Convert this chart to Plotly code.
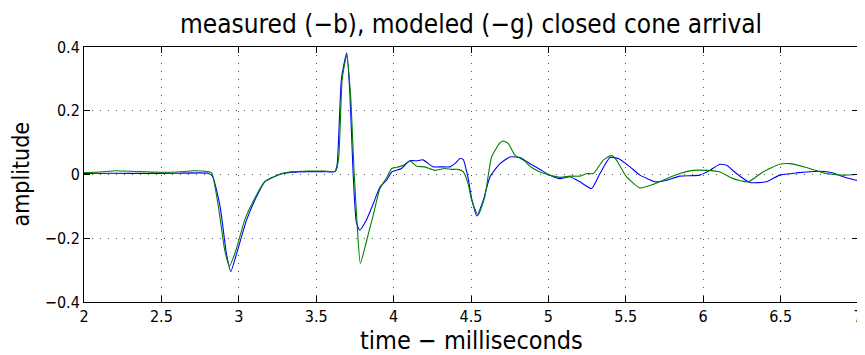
import plotly.graph_objects as go

# measured (blue)
t_meas = [2.0, 2.2, 2.4, 2.6, 2.8, 2.83, 2.879, 2.92, 2.948, 2.986, 3.05, 3.114, 3.168, 3.264,
          3.35, 3.45, 3.55, 3.62, 3.635, 3.663, 3.697, 3.718, 3.738, 3.759, 3.781, 3.824, 3.87,
          3.912, 3.955, 3.988, 4.051, 4.105, 4.15, 4.19, 4.255, 4.309, 4.364, 4.396, 4.429, 4.45,
          4.482, 4.504, 4.537, 4.579, 4.623, 4.687, 4.752, 4.817, 4.881, 4.946, 5.01, 5.075, 5.14,
          5.204, 5.279, 5.333, 5.398, 5.452, 5.527, 5.592, 5.689, 5.763, 5.849, 5.978, 6.043,
          6.108, 6.151, 6.215, 6.3, 6.408, 6.494, 6.602, 6.752, 6.84, 6.904, 6.99, 7.0]
y_meas = [0.003, 0.004, 0.003, 0.004, 0.004, -0.005, -0.10, -0.248, -0.305, -0.248, -0.143, -0.070,
          -0.023, 0.000, 0.007, 0.009, 0.009, 0.009, 0.03, 0.30, 0.382, 0.25, 0.008, -0.149, -0.175,
          -0.143, -0.09, -0.039, -0.018, 0.008, 0.019, 0.043, 0.043, 0.046, 0.024, 0.024, 0.024,
          0.034, 0.050, 0.047, -0.013, -0.075, -0.130, -0.081, -0.007, 0.034, 0.055, 0.053, 0.034,
          0.016, -0.002, -0.013, -0.007, -0.023, -0.044, 0.003, 0.053, 0.050, 0.024, -0.002, -0.023,
          -0.018, -0.005, -0.002, 0.013, 0.032, 0.029, 0.003, -0.025, -0.023, -0.002, 0.005, 0.010,
          0.005, -0.007, -0.018, -0.019]

# modeled (green)
t_mod = [2.0, 2.1, 2.21, 2.35, 2.5, 2.6, 2.71, 2.8, 2.825, 2.868, 2.91, 2.94, 2.98, 3.04, 3.11,
         3.168, 3.264, 3.35, 3.45, 3.55, 3.625, 3.645, 3.668, 3.697, 3.722, 3.745, 3.765, 3.785,
         3.824, 3.868, 3.912, 3.955, 3.988, 4.031, 4.063, 4.105, 4.148, 4.201, 4.266, 4.331,
         4.374, 4.417, 4.45, 4.482, 4.504, 4.546, 4.589, 4.633, 4.687, 4.709, 4.741, 4.784, 4.838,
         4.892, 4.946, 5.01, 5.075, 5.14, 5.204, 5.25, 5.29, 5.355, 5.408, 5.44, 5.504, 5.59,
         5.677, 5.763, 5.849, 5.936, 6.022, 6.108, 6.193, 6.29, 6.386, 6.494, 6.558, 6.666, 6.795,
         6.904, 7.0]
y_mod = [0.006, 0.008, 0.012, 0.009, 0.007, 0.008, 0.012, 0.009, 0.005, -0.10, -0.24, -0.287,
         -0.24, -0.14, -0.068, -0.022, 0.001, 0.009, 0.011, 0.011, 0.010, 0.05, 0.30, 0.374, 0.25,
         0.008, -0.16, -0.279, -0.211, -0.128, -0.044, -0.01, 0.019, 0.024, 0.029, 0.043, 0.026,
         0.024, 0.013, 0.019, 0.016, 0.016, 0.008, -0.03, -0.08, -0.128, -0.070, 0.055, 0.099,
         0.105, 0.097, 0.061, 0.045, 0.022, 0.008, -0.002, -0.009, -0.005, -0.005, 0.003, 0.003,
         0.045, 0.060, 0.045, -0.007, -0.042, -0.031, -0.013, 0.003, 0.013, 0.013, 0.008, -0.013,
         -0.023, 0.008, 0.032, 0.034, 0.022, 0.003, -0.002, 0.0]

x_ticks = [2, 2.5, 3, 3.5, 4, 4.5, 5, 5.5, 6, 6.5, 7]
x_ticktext = ["2", "2.5", "3", "3.5", "4", "4.5", "5", "5.5", "6", "6.5", "7"]
y_ticks = [-0.4, -0.2, 0, 0.2, 0.4]
y_ticktext = ["\u22120.4", "\u22120.2", "0", "0.2", "0.4"]

title_text = "measured (\u2212b), modeled (\u2212g) closed cone arrival"
xlabel_text = "time \u2212 milliseconds"
ylabel_text = "amplitude"

FONT = "DejaVu Sans Condensed, Liberation Sans, Arial, sans-serif"

# The page body adds an 8px margin, so the figure is sized/offset to compensate.
OFF = 8
W, H = 865 - OFF, 355 - OFF
L, R, T, B = 84 - OFF, 7, 47 - OFF, 53
PW, PH = W - L - R, H - T - B

fig = go.Figure()
fig.add_trace(go.Scatter(x=t_meas, y=y_meas, mode="lines",
                         line=dict(color="#0000ff", width=1.1, shape="spline", smoothing=0.5),
                         name="measured"))
fig.add_trace(go.Scatter(x=t_mod, y=y_mod, mode="lines",
                         line=dict(color="#008000", width=1.1, shape="spline", smoothing=0.5),
                         name="modeled"))

axis_common = dict(
    showline=True, linecolor="#000000", linewidth=1, mirror="ticks",
    ticks="inside", ticklen=6, tickcolor="#000000", tickwidth=1,
    showgrid=True, gridcolor="#555555", gridwidth=1, griddash="1px,7px",
    zeroline=False, automargin=False, ticklabeloverflow="allow",
    tickfont=dict(family=FONT, size=16, color="#000000"),
)

fig.update_layout(
    width=W, height=H,
    margin=dict(l=L, r=R, t=T, b=B, autoexpand=False),
    paper_bgcolor="#ffffff", plot_bgcolor="#ffffff",
    showlegend=False,
    font=dict(family=FONT, color="#000000"),
    xaxis=dict(range=[2, 7], tickvals=x_ticks, ticktext=x_ticktext, **axis_common),
    yaxis=dict(range=[-0.4, 0.4], tickvals=y_ticks, ticktext=y_ticktext, **axis_common),
    annotations=[
        dict(text=title_text, xref="paper", yref="paper", x=0.5, y=1 + (T - (24 - OFF)) / PH,
             xanchor="center", yanchor="middle", showarrow=False,
             font=dict(family=FONT, size=26, color="#000000")),
        dict(text=xlabel_text, xref="paper", yref="paper", x=0.5,
             y=-((340 - OFF) - (T + PH)) / PH,
             xanchor="center", yanchor="middle", showarrow=False,
             font=dict(family=FONT, size=25, color="#000000")),
        dict(text=ylabel_text, xref="paper", yref="paper", x=-(L - (20 - OFF)) / PW, y=0.5,
             xanchor="center", yanchor="middle", showarrow=False, textangle=-90,
             font=dict(family=FONT, size=23, color="#000000")),
    ],
)

fig.write_html("out.html")
